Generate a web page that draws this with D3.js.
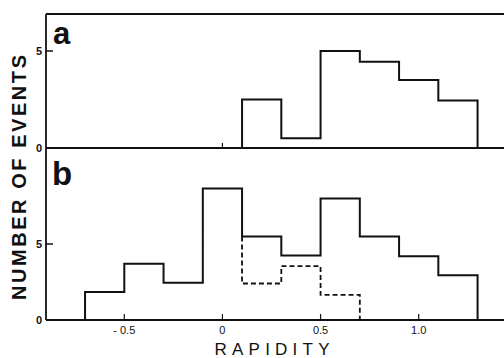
<!DOCTYPE html>
<html>
<head>
<meta charset="utf-8">
<script src="https://cdn.jsdelivr.net/npm/d3@7"></script>
<style>
  body { margin: 0; background: #fff; }
  svg { display: block; }
  text { font-family: "Liberation Sans", Arial, sans-serif; fill: #111; }
</style>
</head>
<body>
<div id="chart"></div>
<script>
// Rapidity histograms, bin edges every 0.2
const binEdgesA = [0.1, 0.3, 0.5, 0.7, 0.9, 1.1, 1.3];
const countsA = [2.5, 0.5, 5.0, 4.45, 3.5, 2.45];

const binEdgesB = [-0.7, -0.5, -0.3, -0.1, 0.1, 0.3, 0.5, 0.7, 0.9, 1.1, 1.3];
const countsB = [1.85, 3.7, 2.45, 8.65, 5.5, 4.25, 8.0, 5.5, 4.2, 2.95];

// dashed subset, starting at 0.1
const binEdgesBDash = [0.1, 0.3, 0.5, 0.7];
const countsBDash = [2.4, 3.55, 1.65];

const xTicks = [-0.5, 0, 0.5, 1.0];
const xTickLabels = ["- 0.5", "0", "0.5", "1.0"];
const xTicksA = [0];
const yTicks = [0, 5];

const width = 504, height = 358;

const svg = d3.select("#chart").append("svg")
    .attr("width", width)
    .attr("height", height);

let x = d3.scaleLinear().domain([-0.5, 1.0]).range([124.3, 418.7]);
let yA = d3.scaleLinear().domain([0, 5]).range([148, 51]);
let yB = d3.scaleLinear().domain([0, 5]).range([320, 244]);

const frameLeft = 46, frameRight = width, frameTop = 14;

/**
 * Builds a closed-bottom step outline for a histogram
 */
function stepPath(edges, counts, y, startY) {
    let pts = [];
    pts.push([x(edges[0]), startY !== undefined ? startY : y(0)]);
    counts.forEach(function(c, i) {
        pts.push([x(edges[i]), y(c)]);
        pts.push([x(edges[i + 1]), y(c)]);
    });
    pts.push([x(edges[edges.length - 1]), y(0)]);
    return d3.line()(pts);
}

// frame
svg.append("line").attr("x1", frameLeft).attr("x2", frameRight).attr("y1", frameTop).attr("y2", frameTop)
    .attr("stroke", "#111").attr("stroke-width", 1.8);
svg.append("line").attr("x1", frameLeft).attr("x2", frameLeft).attr("y1", frameTop).attr("y2", yB(0))
    .attr("stroke", "#111").attr("stroke-width", 1.8);
svg.append("line").attr("x1", frameLeft).attr("x2", frameRight).attr("y1", yA(0)).attr("y2", yA(0))
    .attr("stroke", "#111").attr("stroke-width", 1.8);
svg.append("line").attr("x1", frameLeft).attr("x2", frameRight).attr("y1", yB(0)).attr("y2", yB(0))
    .attr("stroke", "#111").attr("stroke-width", 1.8);

// y ticks and labels
[yA, yB].forEach(function(y) {
    yTicks.forEach(function(t) {
        if (t > 0) {
            svg.append("line").attr("x1", frameLeft).attr("x2", frameLeft + 7)
                .attr("y1", y(t)).attr("y2", y(t))
                .attr("stroke", "#111").attr("stroke-width", 1.5);
        }
        svg.append("text")
            .attr("x", frameLeft - 4)
            .attr("y", y(t))
            .attr("dy", "0.36em")
            .style("text-anchor", "end")
            .style("font-size", "11px")
            .style("font-weight", "bold")
            .text(t);
    });
});

// x ticks
xTicksA.forEach(function(t) {
    svg.append("line").attr("x1", x(t)).attr("x2", x(t))
        .attr("y1", yA(0)).attr("y2", yA(0) - 5)
        .attr("stroke", "#111").attr("stroke-width", 1.2);
});
xTicks.forEach(function(t, i) {
    svg.append("line").attr("x1", x(t)).attr("x2", x(t))
        .attr("y1", yB(0)).attr("y2", yB(0) - 6)
        .attr("stroke", "#111").attr("stroke-width", 1.2);
    svg.append("text")
        .attr("x", x(t))
        .attr("y", 334)
        .style("text-anchor", "middle")
        .style("font-size", "11px")
        .text(xTickLabels[i]);
});

// histograms
svg.append("path")
    .attr("d", stepPath(binEdgesA, countsA, yA))
    .attr("fill", "none").attr("stroke", "#111").attr("stroke-width", 2);
svg.append("path")
    .attr("d", stepPath(binEdgesB, countsB, yB))
    .attr("fill", "none").attr("stroke", "#111").attr("stroke-width", 2);
// dashed one starts at the solid outline at its first edge
let dashStart = yB(countsB[binEdgesB.indexOf(binEdgesBDash[0])]);
svg.append("path")
    .attr("d", stepPath(binEdgesBDash, countsBDash, yB, dashStart))
    .attr("fill", "none").attr("stroke", "#111").attr("stroke-width", 1.8)
    .attr("stroke-dasharray", "5,3");

// panel letters
svg.append("text").attr("x", 53).attr("y", 44)
    .style("font-size", "31px").style("font-weight", "bold").text("a");
svg.append("text").attr("x", 52).attr("y", 185)
    .style("font-size", "33px").style("font-weight", "bold").text("b");

// axis titles
svg.append("text")
    .attr("transform", `translate(26, ${(55 + 300) / 2}) rotate(-90)`)
    .style("text-anchor", "middle")
    .style("font-size", "20px")
    .style("font-weight", "bold")
    .attr("textLength", 245)
    .attr("lengthAdjust", "spacing")
    .text("NUMBER OF EVENTS");
svg.append("text")
    .attr("x", 272)
    .attr("y", 355)
    .style("text-anchor", "middle")
    .style("font-size", "17px")
    .attr("textLength", 115)
    .attr("lengthAdjust", "spacing")
    .text("RAPIDITY");
</script>
</body>
</html>
